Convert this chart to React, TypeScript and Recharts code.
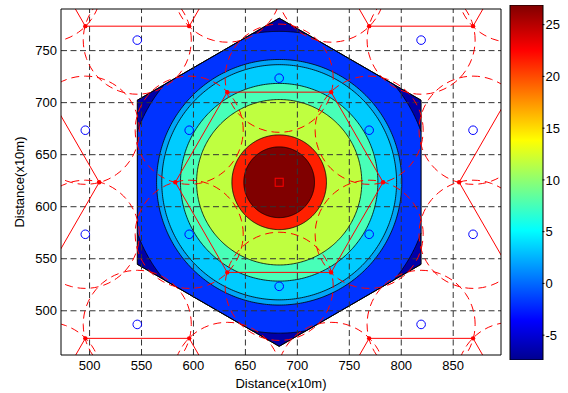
import { Area, Bar, BarChart, ComposedChart, Label, Line, ReferenceLine, Scatter, XAxis, YAxis } from 'recharts'

const X_DOMAIN = [472.5, 896]
const Y_DOMAIN = [457.5, 790]
const X_TICKS = [500, 550, 600, 650, 700, 750, 800, 850]
const Y_TICKS = [500, 550, 600, 650, 700, 750]

// centre cell first, then the six co-channel neighbours
const CELL_X = [682.5, 955.7, 819.1, 545.9, 409.3, 545.9, 819.1]
const CELL_Y = [623.5, 623.5, 860.1, 860.1, 623.5, 386.9, 386.9]
const CELL_RADIUS = 100
const CELL_VERTEX_ANGLES = [0, 60, 120, 180, 240, 300]
const SITE_ANGLES = [30, 90, 150, 210, 270, 330]
const SITE_DIST = 100
const COVER_RADIUS = 52

// filled contour levels inside the big hexagon (radius of each level boundary)
const HEX_RADIUS = 157.7
const HEX_COLOR = '#0000a8'
const LEVEL_RADII = [145, 118, 113, 95, 79.5, 45.5, 34]
const LEVEL_COLORS = ['#0033ff', '#00a6f8', '#00ccff', '#48ffb8', '#bfff40', '#ff2000', '#800000']

const CB_DOMAIN = [-7.4, 26.9]
const CB_TICKS = [-5, 0, 5, 10, 15, 20, 25]
const JET_OFFSETS = [0, 0.111, 0.365, 0.619, 0.873, 1]
const JET_COLORS = ['#00008f', '#0000ff', '#00ffff', '#ffff00', '#ff0000', '#800000']

const FONT = '"Liberation Sans", Arial, sans-serif'

const rad = (d: number) => (d * Math.PI) / 180
const CX = CELL_X[0]
const CY = CELL_Y[0]
const APOTHEM = HEX_RADIUS * Math.cos(rad(30))

function bandData(r: number) {
  const pts: { x: number; band: [number, number] }[] = []
  if (r < APOTHEM) {
    for (let i = 0; i <= 180; i++) {
      const t = rad(180 - i)
      const h = r * Math.sin(t)
      pts.push({ x: CX + r * Math.cos(t), band: [CY - h, CY + h] })
    }
  } else {
    for (let i = 0; i <= 400; i++) {
      const dx = -APOTHEM + (2 * APOTHEM * i) / 400
      const hex = HEX_RADIUS - Math.abs(dx) * Math.tan(rad(30))
      const h = Math.min(Math.sqrt(Math.max(r * r - dx * dx, 0)), hex)
      pts.push({ x: CX + dx, band: [CY - h, CY + h] })
    }
  }
  return pts
}

const hexFill = bandData(Infinity)
const levelFills = LEVEL_RADII.map((r) => bandData(r))

const hexOutline = [90, 150, 210, 270, 330, 30, 90].map((a) => ({
  x: CX + HEX_RADIUS * Math.cos(rad(a)),
  y: CY + HEX_RADIUS * Math.sin(rad(a)),
}))

type Pt = { x: number | null; y: number | null }
const cellLines: Pt[] = []
const cellVertices: Pt[] = []
const sites: Pt[] = []
const coverCircles: Pt[] = []
CELL_X.forEach((cx, i) => {
  const cy = CELL_Y[i]
  ;[...CELL_VERTEX_ANGLES, 360].forEach((a) => {
    cellLines.push({ x: cx + CELL_RADIUS * Math.cos(rad(a)), y: cy + CELL_RADIUS * Math.sin(rad(a)) })
  })
  cellLines.push({ x: null, y: null })
  CELL_VERTEX_ANGLES.forEach((a) => {
    cellVertices.push({ x: cx + CELL_RADIUS * Math.cos(rad(a)), y: cy + CELL_RADIUS * Math.sin(rad(a)) })
  })
  SITE_ANGLES.forEach((a) => {
    const sx = cx + SITE_DIST * Math.cos(rad(a))
    const sy = cy + SITE_DIST * Math.sin(rad(a))
    sites.push({ x: sx, y: sy })
    for (let k = 0; k <= 72; k++) {
      coverCircles.push({ x: sx + COVER_RADIUS * Math.cos(rad(k * 5)), y: sy + COVER_RADIUS * Math.sin(rad(k * 5)) })
    }
    coverCircles.push({ x: null, y: null })
  })
})

const centreSite = [{ x: CX, y: CY }]
const colorbarData = [{ name: 'c', range: CB_DOMAIN }]

const tickStyle = { fontSize: 13, fill: '#000', fontFamily: FONT }

export default function App() {
  return (
    <div style={{ position: 'relative', width: 568, height: 393, background: '#fff', fontFamily: FONT }}>
      <style>{`body { margin: 0; }`}</style>
      <ComposedChart width={568} height={393} margin={{ top: 9, right: 67, bottom: 0, left: 0 }}>
        <XAxis
          type="number"
          dataKey="x"
          domain={X_DOMAIN}
          allowDataOverflow
          ticks={X_TICKS}
          tickLine={false}
          tickSize={0}
          tickMargin={6}
          height={38}
          axisLine={{ stroke: '#000' }}
          tick={tickStyle}
        >
          <Label value="Distance(x10m)" position="insideBottom" offset={5} style={{ fontSize: 13, fill: '#000', fontFamily: FONT }} />
        </XAxis>
        <YAxis
          type="number"
          dataKey="y"
          domain={Y_DOMAIN}
          allowDataOverflow
          ticks={Y_TICKS}
          tickLine={false}
          tickSize={0}
          tickMargin={4}
          width={61}
          axisLine={{ stroke: '#000' }}
          tick={tickStyle}
        >
          <Label
            value="Distance(x10m)"
            angle={-90}
            position="insideLeft"
            offset={19}
            style={{ fontSize: 13, fill: '#000', fontFamily: FONT, textAnchor: 'middle' }}
          />
        </YAxis>

        <Area data={hexFill} dataKey="band" type="linear" fill={HEX_COLOR} fillOpacity={1} stroke="#000" strokeWidth={0.8} dot={false} activeDot={false} isAnimationActive={false} />
        {levelFills.map((d, i) => (
          <Area
            key={i}
            data={d}
            dataKey="band"
            type="linear"
            fill={LEVEL_COLORS[i]}
            fillOpacity={1}
            stroke="#000"
            strokeWidth={0.8}
            dot={false}
            activeDot={false}
            isAnimationActive={false}
          />
        ))}
        <Line data={hexOutline} dataKey="y" type="linear" stroke="#000" strokeWidth={1} dot={false} activeDot={false} isAnimationActive={false} />

        {X_TICKS.map((t) => (
          <ReferenceLine key={'gx' + t} x={t} stroke="#333" strokeDasharray="6 3.5" />
        ))}
        {Y_TICKS.map((t) => (
          <ReferenceLine key={'gy' + t} y={t} stroke="#333" strokeDasharray="6 3.5" />
        ))}

        <Line data={coverCircles} dataKey="y" type="linear" stroke="#ff0000" strokeWidth={1} strokeDasharray="8 5" dot={false} activeDot={false} isAnimationActive={false} />
        <Line data={cellLines} dataKey="y" type="linear" stroke="#ff0000" strokeWidth={1} dot={false} activeDot={false} isAnimationActive={false} />
        <Scatter
          data={cellVertices}
          dataKey="y"
          isAnimationActive={false}
          shape={(p: any) => <circle cx={p.cx} cy={p.cy} r={2.2} fill="#ff0000" />}
        />
        <Scatter
          data={sites}
          dataKey="y"
          isAnimationActive={false}
          shape={(p: any) => <circle cx={p.cx} cy={p.cy} r={4.3} fill="none" stroke="#0000ff" strokeWidth={1} />}
        />
        <Scatter
          data={centreSite}
          dataKey="y"
          isAnimationActive={false}
          shape={(p: any) => <rect x={p.cx - 4} y={p.cy - 4} width={8} height={8} fill="none" stroke="#ff0000" strokeWidth={1} />}
        />

        {/* box around the plot */}
        <ReferenceLine y={Y_DOMAIN[1]} stroke="#000" strokeWidth={1} />
        <ReferenceLine x={X_DOMAIN[1]} stroke="#000" strokeWidth={1} />
      </ComposedChart>

      <div style={{ position: 'absolute', left: 500, top: 0 }}>
        <BarChart width={68} height={393} data={colorbarData} margin={{ top: 5, right: 0, bottom: 33, left: 10 }} barCategoryGap={0}>
          <defs>
            <linearGradient id="jet" x1="0" y1="1" x2="0" y2="0">
              {JET_OFFSETS.map((o, i) => (
                <stop key={o} offset={o} stopColor={JET_COLORS[i]} />
              ))}
            </linearGradient>
          </defs>
          <XAxis dataKey="name" hide />
          <YAxis
            orientation="right"
            type="number"
            domain={CB_DOMAIN}
            allowDataOverflow
            ticks={CB_TICKS}
            width={25.5}
            tickSize={2}
            tickMargin={1}
            axisLine={false}
            tickLine={{ stroke: '#000' }}
            tick={tickStyle}
          />
          <Bar dataKey="range" fill="url(#jet)" stroke="#000" strokeWidth={1} isAnimationActive={false} />
        </BarChart>
      </div>
    </div>
  )
}
